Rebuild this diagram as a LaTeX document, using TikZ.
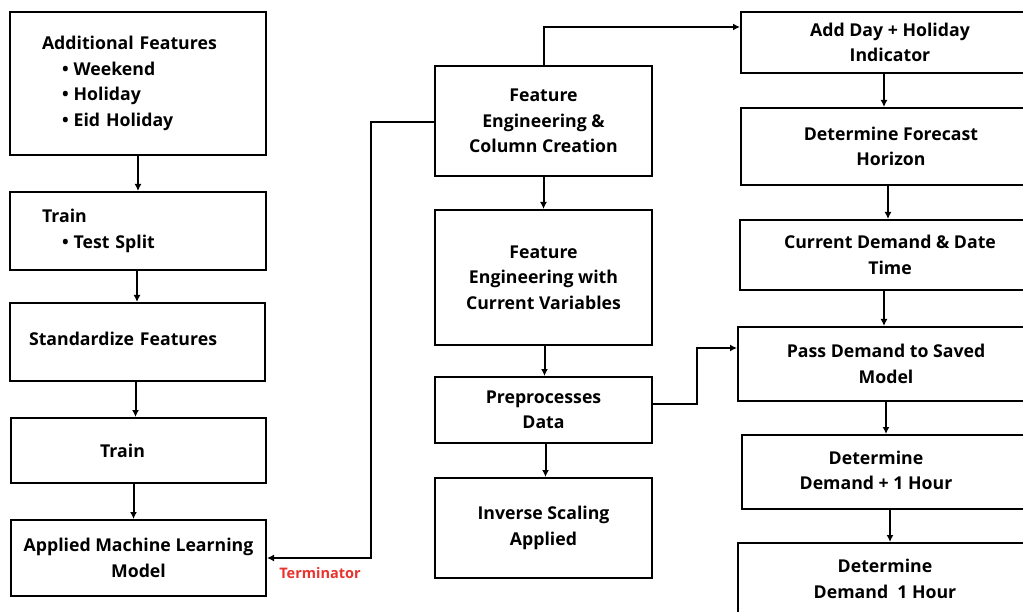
\documentclass[tikz,border=0pt]{standalone}
\usepackage{fontspec}
\setmainfont{Open Sans}
\usetikzlibrary{arrows.meta,calc}
\definecolor{termred}{HTML}{E8332E}
\tikzset{
  box/.style={draw=black, line width=2pt, rectangle, inner sep=0pt, align=center,
    font=\bfseries\fontsize{17.7}{25.5}\selectfont},
  arr/.style={draw=black, line width=2pt, -{Latex[length=7pt,width=7pt]}},
}
\newcommand{\bul}{\hspace*{20pt}\textbullet\hspace{5pt}}
\newcommand{\twol}[2]{\begin{tabular}{@{}c@{}}#1\\#2\end{tabular}}
\begin{document}
\begin{tikzpicture}[x=1pt,y=-1pt]
\useasboundingbox (0,0) rectangle (1023,612);
\clip (0,0) rectangle (1023,612);
\fill[white] (0,0) rectangle (1023,612);
% left column
\node[box, minimum width=256pt, minimum height=143pt, text width=192pt, align=left] (A) at (138,83.5)
  {Additional Features\\\bul Weekend\\\bul Holiday\\\bul Eid Holiday};
\node[box, minimum width=256pt, minimum height=78pt, text width=192pt, align=left] (B) at (138,231)
  {Train\\\bul Test Split};
\node[box, minimum width=255pt, minimum height=78pt, text width=217pt, align=left] (C) at (137.5,342)
  {\raisebox{6pt}{Standardize Features}};
\node[box, minimum width=255pt, minimum height=65pt] (D) at (138.5,450.5) {\hspace*{-32pt}Train};
\node[box, minimum width=255pt, minimum height=76pt] (E) at (138.5,558) {Applied Machine Learning\\Model};
% middle column
\node[box, minimum width=217pt, minimum height=110pt] (F) at (543.5,121) {Feature\\Engineering \&\\Column Creation};
\node[box, minimum width=217pt, minimum height=135pt] (G) at (543.5,277.5) {Feature\\Engineering with\\Current Variables};
\node[box, minimum width=217pt, minimum height=66pt] (H) at (543.5,410) {Preprocesses\\Data};
\node[box, minimum width=217pt, minimum height=100pt] (I) at (543.5,528) {Inverse Scaling\\Applied};
% right column
\node[box, minimum width=298pt, minimum height=61pt] (J) at (890,42.5) {Add Day + Holiday\\Indicator};
\node[box, minimum width=300pt, minimum height=77pt] (K) at (891,146.5) {Determine Forecast\\Horizon};
\node[box, minimum width=300pt, minimum height=70pt] (L) at (890,255) {Current Demand \& Date\\Time};
\node[box, minimum width=296pt, minimum height=74pt] (M) at (886,364) {Pass Demand to Saved\\Model};
\node[box, minimum width=298pt, minimum height=74pt] (N) at (891,472) {\hspace*{-30pt}\twol{Determine}{Demand + 1 Hour}};
\node[box, minimum width=294pt, minimum height=72pt] (O) at (885,579) {Determine\\Demand\ \ 1 Hour};
% arrows left
\draw[arr] (A.south) -- (B.north);
\draw[arr] ([xshift=-1pt]B.south) -- ([xshift=-1pt]B.south |- C.north);
\draw[arr] ([xshift=-2pt]C.south) -- ([xshift=-2pt]C.south |- D.north);
\draw[arr] ([xshift=-5pt]D.south) -- ([xshift=-5pt]D.south |- E.north);
% arrows middle
\draw[arr] (F.south) -- (G.north);
\draw[arr] ([xshift=1pt]G.south) -- ([xshift=1pt]G.south |- H.north);
\draw[arr] ([xshift=2pt]H.south) -- ([xshift=2pt]H.south |- I.north);
% arrows right
\draw[arr] ([xshift=-6pt]J.south) -- ([xshift=-6pt]J.south |- K.north);
\draw[arr] ([xshift=-3pt]K.south) -- ([xshift=-3pt]K.south |- L.north);
\draw[arr] ([xshift=-6pt]L.south) -- ([xshift=-6pt]L.south |- M.north);
\draw[arr] (M.south) -- (M.south |- N.north);
\draw[arr] ([xshift=-1pt]N.south) -- ([xshift=-1pt]N.south |- O.north);
% long connectors
\draw[arr] ([yshift=-1pt]F.west) -- ++(-63,0) |- (E.east);
\draw[arr] (F.north) |- ([yshift=15.5pt]J.west);
\draw[arr] ([yshift=6pt]H.east) -- ++(44,0) |- ([yshift=16pt]M.west);
\node[font=\bfseries\fontsize{14.5}{16}\selectfont, text=termred, inner sep=0pt] (T) at (320,573) {Terminator};
\end{tikzpicture}
\end{document}
